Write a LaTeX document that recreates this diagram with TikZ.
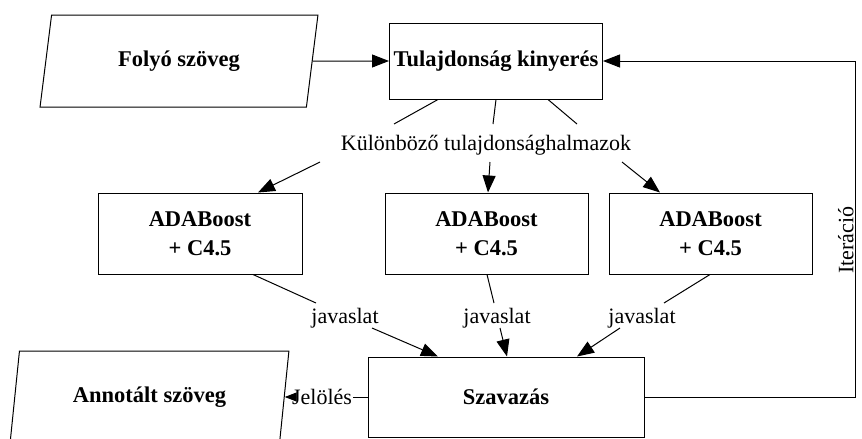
\documentclass[tikz,border=0pt]{standalone}
\usepackage{fontspec}
\setmainfont{Liberation Serif}
\usetikzlibrary{shapes.geometric,arrows.meta,calc}
\begin{document}
\begin{tikzpicture}[x=1pt,y=-1pt,
  box/.style={draw, line width=1pt, rectangle, font=\fontsize{22.5}{29}\selectfont\bfseries, align=center, inner sep=0pt},
  para/.style={draw, trapezium, trapezium left angle=75, trapezium right angle=105, trapezium stretches=true, line width=1pt, font=\fontsize{22.5}{27}\selectfont\bfseries, inner sep=0pt},
  lbl/.style={font=\fontsize{22}{26}\selectfont, inner sep=1pt},
  conn/.style={line width=1pt},
  arr/.style={conn, -{Triangle[length=17pt,width=13pt]}},
  sarr/.style={conn, -{Triangle[length=12pt,width=9pt]}}]
\clip (0,0) rectangle (862,439);
\fill[white] (0,0) rectangle (862,439);
% nodes
\node[para, minimum width=278pt, minimum height=92pt] (folyo) at (179,61) {Folyó szöveg};
\node[box, minimum width=213pt, minimum height=76pt] (tul) at (496,61) {Tulajdonság kinyerés};
\node[lbl] (lab) at (486,145) {Különböző tulajdonsághalmazok};
\node[box, minimum width=204pt, minimum height=81pt] (ada1) at (200,233.5) {ADABoost\\+ C4.5};
\node[box, minimum width=203pt, minimum height=81pt] (ada2) at (486.5,233.5) {ADABoost\\+ C4.5};
\node[box, minimum width=203pt, minimum height=81pt] (ada3) at (710.5,233.5) {ADABoost\\+ C4.5};
\node[lbl] (j1) at (345,318) {javaslat};
\node[lbl] (j2) at (497,318) {javaslat};
\node[lbl] (j3) at (642,318) {javaslat};
\node[box, minimum width=276pt, minimum height=80pt] (sz) at (506,397) {Szavazás};
\node[para, minimum width=279pt, minimum height=92pt] (ann) at (149.5,397) {Annotált szöveg};
\node[lbl] (jel) at (322,397) {Jelölés};
\coordinate (itt) at (855,61);
% connectors
\draw[arr] (folyo.east) -- (tul.west);
\draw[conn] ($(tul.south)+(-58,0)$) -- ($(lab.center)+(-92,-21)$);
\draw[conn] ($(tul.south)+(0,0)$) -- ($(lab.center)+(7,-21)$);
\draw[conn] ($(tul.south)+(52,0)$) -- ($(lab.center)+(91,-21)$);
\draw[arr] ($(lab.center)+(-166,17)$) -- ($(ada1.north)+(58,0)$);
\draw[arr] ($(lab.center)+(4,17)$) -- ($(ada2.north)+(1.5,0)$);
\draw[arr] ($(lab.center)+(136,17)$) -- ($(ada3.north)+(-50.5,0)$);
\draw[conn] ($(ada1.south)+(53,0)$) -- ($(j1.center)+(-29,-15)$);
\draw[arr] ($(j1.center)+(27,10)$) -- ($(sz.north)+(-68,0)$);
\draw[conn] ($(ada2.south)+(0.5,0)$) -- ($(j2.center)+(-3,-15)$);
\draw[arr] ($(j2.center)+(3,10)$) -- ($(sz.north)+(1,0)$);
\draw[conn] ($(ada3.south)+(-0.5,0)$) -- ($(j3.center)+(22,-15)$);
\draw[arr] ($(j3.center)+(-22,10)$) -- ($(sz.north)+(71,0)$);
\draw[conn] (sz.west) -- (jel.east);
\draw[sarr] (jel.west) -- (ann.east);
\draw[arr] (sz.east) -| (itt) -- (tul.east);
\node[lbl, fill=white, rotate=90, inner xsep=3pt, inner ysep=0pt, text height=0.68em, text depth=0.2em] (it) at (851,240) {Iteráció};
\end{tikzpicture}
\end{document}
